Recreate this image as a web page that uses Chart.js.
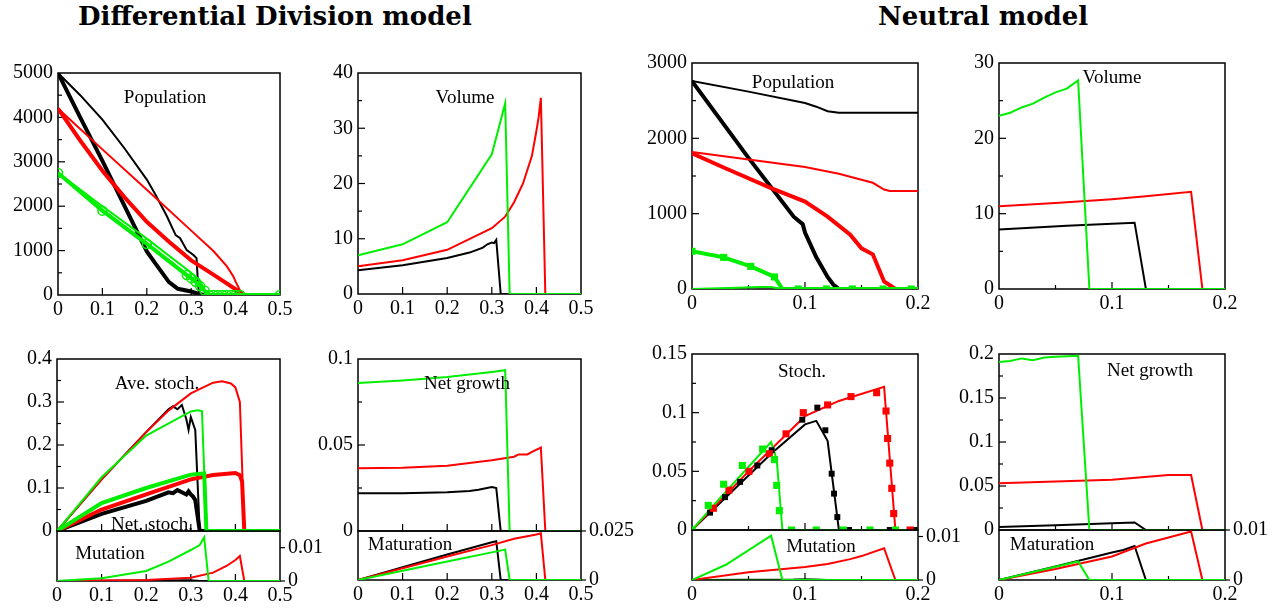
<!DOCTYPE html>
<html>
<head>
<meta charset="utf-8">
<script src="https://cdn.jsdelivr.net/npm/chart.js"></script>
<style>
  body { margin: 0; background: #fff; width: 1278px; height: 608px; position: relative; overflow: hidden; font-family: 'Liberation Serif', serif; }
  canvas { position: absolute; }
  .title { position: absolute; font: bold 26px 'DejaVu Serif', serif; line-height: 26px; white-space: nowrap; }
  .lab { position: absolute; font-size: 19px; line-height: 19px; white-space: nowrap; transform: translate(-50%, -50%); }
</style>
</head>
<body>
<div class="title" style="left:78px; top:3px">Differential Division model</div>
<div class="title" style="left:878px; top:3px">Neutral model</div>
<script>
// ---- Differential Division: population ----
const ddPopBlackThin = [[0,5000],[0.05,4500],[0.1,3950],[0.15,3300],[0.2,2600],[0.22,2250],[0.245,1780],[0.265,1350],[0.275,1280],[0.29,1010],[0.305,900],[0.312,830],[0.315,300],[0.318,0],[0.5,0]];
const ddPopBlackThick = [[0,5000],[0.05,4000],[0.1,3020],[0.15,2000],[0.2,980],[0.22,700],[0.25,290],[0.27,140],[0.3,80],[0.32,15],[0.33,0],[0.5,0]];
const ddPopRedThin = [[0,4200],[0.1,3280],[0.2,2370],[0.3,1450],[0.35,990],[0.38,650],[0.395,420],[0.4,300],[0.415,0],[0.5,0]];
const ddPopRedThick = [[0,4200],[0.05,3480],[0.1,2800],[0.15,2200],[0.2,1650],[0.25,1200],[0.3,780],[0.35,460],[0.4,130],[0.42,0],[0.5,0]];
const ddPopGreenThin = [[0,2750],[0.1,2000],[0.2,1270],[0.3,500],[0.32,320],[0.335,0],[0.5,0]];
const ddPopGreenThick = [[0,2750],[0.1,1900],[0.2,1150],[0.29,450],[0.3,380],[0.31,300],[0.32,200],[0.33,100],[0.34,0],[0.35,0],[0.36,0],[0.37,0],[0.38,0],[0.39,0],[0.4,0],[0.41,0],[0.5,0]];
// ---- Differential Division: volume ----
const ddVolGreen = [[0,7],[0.1,9],[0.2,13],[0.3,25.3],[0.33,34.5],[0.34,0],[0.5,0]];
const ddVolRed = [[0,5],[0.1,6.1],[0.2,8],[0.3,11.9],[0.33,14],[0.35,16.6],[0.37,20],[0.39,25],[0.4,29.5],[0.405,32],[0.41,35.5],[0.42,0],[0.5,0]];
const ddVolBlack = [[0,4.3],[0.1,5.2],[0.2,6.5],[0.25,7.5],[0.28,8.4],[0.29,9],[0.3,9.3],[0.305,9.2],[0.31,9.8],[0.32,0],[0.5,0]];
// ---- Differential Division: stochasticity ----
const ddAveRed = [[0,0],[0.1,0.12],[0.2,0.23],[0.25,0.28],[0.3,0.32],[0.35,0.345],[0.37,0.348],[0.39,0.343],[0.4,0.334],[0.41,0.3],[0.42,0],[0.5,0]];
const ddAveBlack = [[0,0],[0.1,0.12],[0.2,0.23],[0.25,0.283],[0.26,0.29],[0.27,0.283],[0.28,0.293],[0.29,0.26],[0.295,0.235],[0.3,0.265],[0.31,0.235],[0.32,0],[0.5,0]];
const ddAveGreen = [[0,0],[0.1,0.125],[0.2,0.222],[0.3,0.278],[0.315,0.281],[0.325,0.279],[0.335,0],[0.5,0]];
const ddNetGreen = [[0,0],[0.1,0.065],[0.2,0.1],[0.3,0.131],[0.33,0.134],[0.335,0],[0.5,0]];
const ddNetRed = [[0,0],[0.1,0.05],[0.2,0.085],[0.3,0.12],[0.35,0.13],[0.4,0.135],[0.41,0.13],[0.415,0.115],[0.42,0],[0.5,0]];
const ddNetBlack = [[0,0],[0.1,0.04],[0.2,0.07],[0.25,0.09],[0.26,0.088],[0.27,0.095],[0.28,0.09],[0.29,0.085],[0.295,0.092],[0.3,0.085],[0.305,0.08],[0.31,0.072],[0.32,0],[0.5,0]];
const ddMutGreen = [[0,0],[0.1,0.0008],[0.2,0.003],[0.25,0.0058],[0.3,0.0093],[0.32,0.0108],[0.33,0.0131],[0.34,0],[0.5,0]];
const ddMutRed = [[0,0],[0.2,0.0003],[0.3,0.001],[0.35,0.0025],[0.38,0.0045],[0.4,0.0063],[0.41,0.0075],[0.42,0],[0.5,0]];
const ddMutBlack = [[0,0],[0.3,0.0002],[0.32,0],[0.5,0]];
// ---- Differential Division: growth ----
const ddGrowGreen = [[0,0.086],[0.1,0.0875],[0.2,0.0895],[0.3,0.0925],[0.33,0.0935],[0.34,0],[0.5,0]];
const ddGrowRed = [[0,0.0365],[0.1,0.0368],[0.2,0.038],[0.3,0.0412],[0.35,0.0432],[0.36,0.0445],[0.38,0.0445],[0.39,0.046],[0.41,0.0485],[0.42,0],[0.5,0]];
const ddGrowBlack = [[0,0.022],[0.1,0.022],[0.2,0.0225],[0.25,0.0232],[0.27,0.024],[0.3,0.0255],[0.31,0.025],[0.32,0],[0.5,0]];
const ddMatBlack = [[0,0],[0.1,0.0065],[0.2,0.013],[0.3,0.0193],[0.31,0.0198],[0.32,0],[0.5,0]];
const ddMatRed = [[0,0],[0.1,0.006],[0.2,0.012],[0.3,0.0178],[0.35,0.021],[0.4,0.0232],[0.41,0.0238],[0.42,0],[0.5,0]];
const ddMatGreen = [[0,0],[0.1,0.0047],[0.2,0.0094],[0.3,0.0141],[0.33,0.0155],[0.34,0],[0.5,0]];
// ---- Neutral: population ----
const ntPopBlackThin = [[0,2760],[0.05,2620],[0.1,2470],[0.11,2420],[0.12,2360],[0.13,2340],[0.2,2340]];
const ntPopBlackThick = [[0,2760],[0.05,1740],[0.09,960],[0.098,860],[0.1,750],[0.11,420],[0.12,160],[0.125,60],[0.13,0],[0.2,0]];
const ntPopRedThin = [[0,1820],[0.05,1720],[0.1,1620],[0.13,1530],[0.15,1450],[0.16,1410],[0.17,1320],[0.175,1300],[0.2,1300]];
const ntPopRedThick = [[0,1800],[0.03,1600],[0.07,1340],[0.1,1160],[0.12,960],[0.14,720],[0.15,540],[0.16,460],[0.17,100],[0.18,0],[0.2,0]];
const ntPopGreenThick = [[0,500],[0.028,420],[0.052,300],[0.073,160],[0.08,0],[0.094,0],[0.119,0],[0.142,0],[0.169,0],[0.194,0],[0.2,0]];
const ntPopGreenThin = [[0,0],[0.04,15],[0.06,25],[0.07,25],[0.08,0],[0.2,0]];
// ---- Neutral: volume ----
const ntVolGreen = [[0,23],[0.01,23.4],[0.02,24.1],[0.03,24.6],[0.04,25.4],[0.05,26.1],[0.06,26.6],[0.07,27.7],[0.08,0],[0.2,0]];
const ntVolRed = [[0,11],[0.05,11.4],[0.1,11.9],[0.13,12.3],[0.17,12.9],[0.18,0],[0.2,0]];
const ntVolBlack = [[0,7.9],[0.06,8.4],[0.12,8.8],[0.13,0],[0.2,0]];
// ---- Neutral: stochasticity ----
const ntStoGreen = [[0,0],[0.02,0.022],[0.07,0.075],[0.075,0.06],[0.08,0],[0.2,0]];
const ntStoRed = [[0,0],[0.05,0.05],[0.1,0.097],[0.13,0.11],[0.17,0.122],[0.18,0],[0.2,0]];
const ntStoBlack = [[0,0],[0.07,0.065],[0.1,0.09],[0.11,0.093],[0.12,0.076],[0.13,0],[0.2,0]];
const ntStoGreenPts = [[0,0],[0.0144,0.021],[0.028,0.039],[0.0445,0.055],[0.0625,0.069],[0.073,0.06],[0.075,0.038],[0.0773,0.0165],[0.088,0],[0.11,0],[0.134,0],[0.1575,0],[0.18,0]];
const ntStoRedPts = [[0.0189,0.0185],[0.0327,0.034],[0.0504,0.05],[0.0684,0.065],[0.0832,0.082],[0.0985,0.1],[0.12,0.1066],[0.1407,0.1137],[0.1634,0.117],[0.1717,0.1014],[0.1731,0.078],[0.175,0.057],[0.1768,0.0355],[0.1785,0.014],[0.193,0]];
const ntStoBlackPts = [[0.016,0.0148],[0.0292,0.028],[0.0425,0.041],[0.0578,0.055],[0.0705,0.068],[0.0976,0.094],[0.1109,0.1043],[0.118,0.085],[0.1236,0.048],[0.1257,0.031],[0.1286,0.011],[0.139,0],[0.175,0],[0.197,0]];
const ntMutGreen = [[0,0],[0.03,0.0035],[0.07,0.0102],[0.08,0],[0.2,0]];
const ntMutRed = [[0,0],[0.05,0.0018],[0.1,0.003],[0.12,0.0037],[0.14,0.0048],[0.15,0.0055],[0.17,0.0073],[0.18,0],[0.2,0]];
const ntMutBlack = [[0,0],[0.09,0.0001],[0.1,0.0002],[0.11,0.0001],[0.12,0],[0.2,0]];
// ---- Neutral: growth ----
const ntGrowGreen = [[0,0.191],[0.01,0.192],[0.02,0.195],[0.03,0.193],[0.04,0.196],[0.05,0.197],[0.07,0.198],[0.08,0],[0.2,0]];
const ntGrowRed = [[0,0.053],[0.05,0.055],[0.1,0.057],[0.15,0.0625],[0.17,0.0625],[0.18,0],[0.2,0]];
const ntGrowBlack = [[0,0.0035],[0.05,0.0055],[0.1,0.0076],[0.12,0.0085],[0.13,0],[0.2,0]];
const ntMatBlack = [[0,0],[0.05,0.0027],[0.1,0.0055],[0.11,0.006],[0.12,0.0068],[0.13,0],[0.2,0]];
const ntMatRed = [[0,0],[0.05,0.0022],[0.1,0.0047],[0.13,0.0073],[0.17,0.0097],[0.18,0],[0.2,0]];
const ntMatGreen = [[0,0],[0.07,0.0037],[0.08,0],[0.2,0]];

// tick values
const xTicksDD = [0, 0.1, 0.2, 0.3, 0.4, 0.5];
const xTicksNT = [0, 0.1, 0.2];

const GREEN = '#00ee00', RED = '#ff0000', BLACK = '#000000';
const THICK = 4, THIN = 2;

Chart.defaults.font.family = "'Liberation Serif', serif";
Chart.defaults.font.size = 20;
Chart.defaults.color = '#000';

const fmt = v => String(+Number(v).toFixed(4));

function L(pts, color, w, extra) {
  return Object.assign({
    data: pts.map(p => ({ x: p[0], y: p[1] })),
    borderColor: color, backgroundColor: color, borderWidth: w,
    pointRadius: 0, tension: 0, fill: false
  }, extra || {});
}
// markers only, no joining line
function M(pts, color, r) {
  return L(pts, color, 0, { showLine: false, pointRadius: r, pointStyle: 'rect', pointBorderWidth: 0 });
}

// frame box plus xmgrace-like inward ticks
const frame = {
  id: 'frame',
  beforeDatasetsDraw(chart, args, o) {
    const { ctx, chartArea: a, scales: { x, y } } = chart;
    const tk = (x1, y1, x2, y2) => { ctx.beginPath(); ctx.moveTo(x1, y1); ctx.lineTo(x2, y2); ctx.stroke(); };
    ctx.save();
    ctx.strokeStyle = '#000';
    ctx.lineWidth = 1.5;
    ctx.strokeRect(a.left, a.top, a.right - a.left, a.bottom - a.top);
    ctx.lineWidth = 1.2;
    const xs = x.ticks.map(t => t.value);
    xs.forEach((v, i) => {
      const p = x.getPixelForValue(v);
      if (i > 0 && i < xs.length - 1) tk(p, a.bottom, p, a.bottom - 7);
      if (o.xMinor && i < xs.length - 1) {
        const q = x.getPixelForValue((v + xs[i + 1]) / 2);
        tk(q, a.bottom, q, a.bottom - 4);
      }
    });
    const ys = y.ticks.map(t => t.value);
    ys.forEach((v, i) => {
      const p = y.getPixelForValue(v);
      if (o.right) {
        tk(a.right, p, a.right + 5, p);
      } else {
        if (i > 0 && i < ys.length - 1) tk(a.left, p, a.left + 7, p);
        if (o.yMinor !== false && i < ys.length - 1) {
          const q = y.getPixelForValue((v + ys[i + 1]) / 2);
          tk(a.left, q, a.left + 4, q);
        }
      }
    });
    ctx.restore();
  }
};

function panel(box, c) {
  const right = !!c.right;
  const noX = c.xLabels === false;
  const ml = 62, mr = right ? 62 : 22, mt = 14, mb = noX ? 0 : 30, pb = noX ? 14 : 0;
  const pw = box.r - box.l, ph = box.b - box.t;
  const cv = document.createElement('canvas');
  document.body.appendChild(cv);
  const cfg = () => ({
    type: 'line',
    data: { datasets: c.sets },
    options: {
      responsive: false, maintainAspectRatio: false, animation: false, events: [], devicePixelRatio: 1,
      layout: { padding: { top: mt, right: right ? 0 : mr, left: right ? ml : 0, bottom: pb } },
      plugins: { legend: { display: false }, tooltip: { enabled: false }, frame: { right: right, xMinor: c.xMinor, yMinor: c.yMinor } },
      scales: {
        x: {
          type: 'linear', min: c.x[0], max: c.x[1],
          afterBuildTicks: s => { s.ticks = c.x[2].map(v => ({ value: v })); },
          afterFit: s => { s.height = mb; },
          grid: { display: false, drawTicks: false, tickLength: 0 }, border: { display: false },
          ticks: { display: !noX, padding: 3, maxRotation: 0, autoSkip: false, callback: fmt }
        },
        y: {
          type: 'linear', position: right ? 'right' : 'left', min: c.y[0], max: c.y[1],
          afterBuildTicks: s => { s.ticks = c.y[2].map(v => ({ value: v })); },
          afterFit: s => { s.width = right ? mr : ml; },
          grid: { display: false, drawTicks: false, tickLength: 0 }, border: { display: false },
          ticks: { padding: right ? 8 : 5, autoSkip: false, callback: fmt }
        }
      }
    },
    plugins: [frame]
  });
  // first pass: guess canvas size, then correct so the plot area matches the box exactly
  let w = pw + ml + mr, h = ph + mt + mb + pb;
  cv.width = w; cv.height = h;
  let chart = new Chart(cv, cfg());
  let a = chart.chartArea;
  const dw = pw - (a.right - a.left), dh = ph - (a.bottom - a.top);
  if (dw !== 0 || dh !== 0) {
    chart.destroy();
    w += dw; h += dh;
    cv.width = w; cv.height = h;
    chart = new Chart(cv, cfg());
    a = chart.chartArea;
  }
  cv.style.width = w + 'px'; cv.style.height = h + 'px';
  cv.style.left = (box.l - a.left) + 'px';
  cv.style.top = (box.t - a.top) + 'px';
}

// top row
panel({ l: 58, t: 73, r: 280, b: 295 }, {
  x: [0, 0.5, xTicksDD], y: [0, 5000, [0, 1000, 2000, 3000, 4000, 5000]],
  sets: [
    L(ddPopGreenThick, GREEN, THICK, { pointRadius: 4.5, pointStyle: 'circle', pointBackgroundColor: 'rgba(0,0,0,0)', pointBorderColor: GREEN, pointBorderWidth: 1.5 }),
    L(ddPopGreenThin, GREEN, THIN),
    L(ddPopRedThick, RED, THICK),
    L(ddPopRedThin, RED, THIN),
    L(ddPopBlackThick, BLACK, THICK),
    L(ddPopBlackThin, BLACK, THIN)
  ]
});
panel({ l: 358, t: 73, r: 581, b: 294 }, {
  x: [0, 0.5, xTicksDD], y: [0, 40, [0, 10, 20, 30, 40]],
  sets: [L(ddVolGreen, GREEN, THIN), L(ddVolRed, RED, THIN), L(ddVolBlack, BLACK, THIN)]
});
panel({ l: 692, t: 63, r: 918, b: 289 }, {
  x: [0, 0.2, xTicksNT], y: [0, 3000, [0, 1000, 2000, 3000]], xMinor: true,
  sets: [
    L(ntPopGreenThick, GREEN, THICK, { pointRadius: [5, 5, 5, 5, 0, 5, 5, 5, 5, 5, 0], pointStyle: 'rect', pointBorderWidth: 0 }),
    L(ntPopGreenThin, GREEN, THIN),
    L(ntPopRedThick, RED, THICK),
    L(ntPopRedThin, RED, THIN),
    L(ntPopBlackThick, BLACK, THICK),
    L(ntPopBlackThin, BLACK, THIN)
  ]
});
panel({ l: 999, t: 63, r: 1225, b: 289 }, {
  x: [0, 0.2, xTicksNT], y: [0, 30, [0, 10, 20, 30]], xMinor: true,
  sets: [L(ntVolGreen, GREEN, THIN), L(ntVolRed, RED, THIN), L(ntVolBlack, BLACK, THIN)]
});

// bottom row, main panels
panel({ l: 57, t: 359, r: 280, b: 531 }, {
  x: [0, 0.5, xTicksDD], y: [0, 0.4, [0, 0.1, 0.2, 0.3, 0.4]], xLabels: false,
  sets: [
    L(ddNetGreen, GREEN, THICK), L(ddAveGreen, GREEN, THIN),
    L(ddNetRed, RED, THICK), L(ddAveRed, RED, THIN),
    L(ddNetBlack, BLACK, THICK), L(ddAveBlack, BLACK, THIN)
  ]
});
panel({ l: 358, t: 359, r: 581, b: 531 }, {
  x: [0, 0.5, xTicksDD], y: [0, 0.1, [0, 0.05, 0.1]], xLabels: false,
  sets: [L(ddGrowGreen, GREEN, THIN), L(ddGrowRed, RED, THIN), L(ddGrowBlack, BLACK, THIN)]
});
panel({ l: 692, t: 354, r: 918, b: 530 }, {
  x: [0, 0.2, xTicksNT], y: [0, 0.15, [0, 0.05, 0.1, 0.15]], xLabels: false, xMinor: true,
  sets: [
    M(ntStoGreenPts, GREEN, 5), M(ntStoRedPts, RED, 5), M(ntStoBlackPts, BLACK, 4.2),
    L(ntStoGreen, GREEN, THIN), L(ntStoRed, RED, THIN), L(ntStoBlack, BLACK, THIN)
  ]
});
panel({ l: 999, t: 354, r: 1225, b: 530 }, {
  x: [0, 0.2, xTicksNT], y: [0, 0.2, [0, 0.05, 0.1, 0.15, 0.2]], xLabels: false, xMinor: true,
  sets: [L(ntGrowGreen, GREEN, THIN), L(ntGrowRed, RED, THIN), L(ntGrowBlack, BLACK, THIN)]
});

// bottom row, sub panels (right-hand axis)
panel({ l: 57, t: 531, r: 280, b: 581 }, {
  x: [0, 0.5, xTicksDD], y: [0, 0.015, [0, 0.01]], right: true,
  sets: [L(ddMutGreen, GREEN, THIN), L(ddMutRed, RED, THIN), L(ddMutBlack, BLACK, THIN)]
});
panel({ l: 358, t: 531, r: 581, b: 580 }, {
  x: [0, 0.5, xTicksDD], y: [0, 0.025, [0, 0.025]], right: true,
  sets: [L(ddMatGreen, GREEN, THIN), L(ddMatRed, RED, THIN), L(ddMatBlack, BLACK, THIN)]
});
panel({ l: 692, t: 530, r: 918, b: 580 }, {
  x: [0, 0.2, xTicksNT], y: [0, 0.0115, [0, 0.01]], right: true, xMinor: true,
  sets: [L(ntMutGreen, GREEN, THIN), L(ntMutRed, RED, THIN), L(ntMutBlack, '#004400', THIN)]
});
panel({ l: 999, t: 530, r: 1225, b: 580 }, {
  x: [0, 0.2, xTicksNT], y: [0, 0.01, [0, 0.01]], right: true, xMinor: true,
  sets: [L(ntMatGreen, GREEN, THIN), L(ntMatRed, RED, THIN), L(ntMatBlack, BLACK, THIN)]
});

// panel captions
const captions = [
  ['Population', 165, 96], ['Volume', 465, 96], ['Population', 793, 81], ['Volume', 1112, 76],
  ['Ave. stoch.', 157, 382], ['Net. stoch.', 152, 523], ['Mutation', 110, 552],
  ['Net growth', 467, 382], ['Maturation', 410, 543],
  ['Stoch.', 802, 370], ['Mutation', 821, 545],
  ['Net growth', 1150, 369], ['Maturation', 1052, 543]
];
captions.forEach(([text, x, y]) => {
  const d = document.createElement('div');
  d.className = 'lab';
  d.textContent = text;
  d.style.left = x + 'px';
  d.style.top = y + 'px';
  document.body.appendChild(d);
});
</script>
</body>
</html>
